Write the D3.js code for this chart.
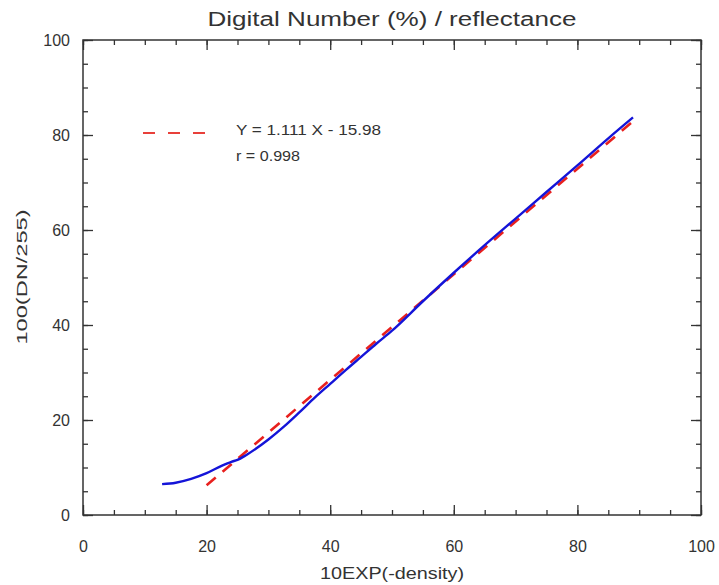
<!DOCTYPE html>
<html>
<head>
<meta charset="utf-8">
<script src="https://cdn.jsdelivr.net/npm/d3@7"></script>
<style>
  html, body { margin: 0; padding: 0; background: #fff; }
  svg { display: block; }
  text { font-family: "Liberation Sans", Arial, sans-serif; fill: #333; }
</style>
</head>
<body>
<script>
// ---- Data ----
const measuredX = [12.8, 15, 17.5, 20, 22.5, 24, 25, 26.5, 30, 32.5, 35, 37.5, 40, 42.5, 45, 47.5, 50, 55, 60, 65, 70, 75, 80, 85, 89];
const measuredY = [6.5, 6.8, 7.6, 8.8, 10.4, 11.2, 11.6, 12.7, 15.9, 18.6, 21.6, 24.7, 27.6, 30.5, 33.3, 36.1, 38.8, 45.0, 51.0, 56.8, 62.4, 68.0, 73.6, 79.3, 83.7];
const fitSlope = 1.111;
const fitIntercept = -15.98;
const fitRange = [20, 89];
const xMajorTicks = [0, 20, 40, 60, 80, 100];
const yMajorTicks = [0, 20, 40, 60, 80, 100];
const minorTicks = d3.range(0, 101, 5);
const titleText = "Digital Number (%) / reflectance";
const xTitle = "10EXP(-density)";
const yTitle = "100(DN/255)";
const legendLines = ["Y = 1.111 X - 15.98", "r = 0.998"];

// ---- Layout ----
const W = 719, H = 585;
const L = 83, R = 701, T = 40, B = 515;

const svg = d3.select("body").append("svg").attr("width", W).attr("height", H);

const x = d3.scaleLinear().domain([0, 100]).range([L, R]);
const y = d3.scaleLinear().domain([0, 100]).range([B, T]);

const axisColor = "#333";

function styleAxis(g) {
  g.select(".domain").remove();
  g.selectAll(".tick line").attr("stroke", axisColor).attr("stroke-width", 1.3);
  g.selectAll(".tick text").attr("font-size", 16).attr("fill", "#333")
    .attr("font-family", "Liberation Sans, Arial, sans-serif");
}

// minor ticks
svg.append("g").attr("transform", `translate(0,${B})`)
  .call(d3.axisBottom(x).tickValues(minorTicks).tickSize(-5).tickFormat(""))
  .call(styleAxis);
svg.append("g").attr("transform", `translate(0,${T})`)
  .call(d3.axisTop(x).tickValues(minorTicks).tickSize(-5).tickFormat(""))
  .call(styleAxis);
svg.append("g").attr("transform", `translate(${L},0)`)
  .call(d3.axisLeft(y).tickValues(minorTicks).tickSize(-5).tickFormat(""))
  .call(styleAxis);
svg.append("g").attr("transform", `translate(${R},0)`)
  .call(d3.axisRight(y).tickValues(minorTicks).tickSize(-5).tickFormat(""))
  .call(styleAxis);

// major ticks
svg.append("g").attr("transform", `translate(0,${B})`)
  .call(d3.axisBottom(x).tickValues(xMajorTicks).tickSize(-10).tickPadding(26).tickFormat(d3.format("d")))
  .call(styleAxis);
svg.append("g").attr("transform", `translate(0,${T})`)
  .call(d3.axisTop(x).tickValues(xMajorTicks).tickSize(-10).tickFormat(""))
  .call(styleAxis);
svg.append("g").attr("transform", `translate(${L},0)`)
  .call(d3.axisLeft(y).tickValues(yMajorTicks).tickSize(-10).tickPadding(13).tickFormat(d3.format("d")))
  .call(styleAxis);
svg.append("g").attr("transform", `translate(${R},0)`)
  .call(d3.axisRight(y).tickValues(yMajorTicks).tickSize(-10).tickFormat(""))
  .call(styleAxis);

// frame
svg.append("rect").attr("x", L).attr("y", T).attr("width", R - L).attr("height", B - T)
  .attr("fill", "none").attr("stroke", axisColor).attr("stroke-width", 1.5);

// measured curve
const measured = measuredX.map((d, i) => [d, measuredY[i]]);
const line = d3.line().x(d => x(d[0])).y(d => y(d[1])).curve(d3.curveMonotoneX);

// fit line
const fit = fitRange.map(v => [v, fitSlope * v + fitIntercept]);
svg.append("path").datum(fit).attr("d", d3.line().x(d => x(d[0])).y(d => y(d[1])))
  .attr("fill", "none").attr("stroke", "#e8201e").attr("stroke-width", 2.6)
  .attr("stroke-dasharray", "12,9");

svg.append("path").datum(measured).attr("d", line)
  .attr("fill", "none").attr("stroke", "#1414d8").attr("stroke-width", 2.4);

// legend
svg.append("line").attr("x1", 143).attr("x2", 212).attr("y1", 133).attr("y2", 133)
  .attr("stroke", "#e8403a").attr("stroke-width", 1.8).attr("stroke-dasharray", "12,13");
svg.append("text").attr("x", 236).attr("y", 135).attr("font-size", 14)
  .attr("textLength", 145).attr("lengthAdjust", "spacingAndGlyphs").text(legendLines[0]);
svg.append("text").attr("x", 236).attr("y", 161).attr("font-size", 14)
  .attr("textLength", 64).attr("lengthAdjust", "spacingAndGlyphs").text(legendLines[1]);

// titles
svg.append("text").attr("x", 392).attr("y", 26).attr("text-anchor", "middle")
  .attr("font-size", 20).attr("textLength", 369).attr("lengthAdjust", "spacingAndGlyphs").text(titleText);
svg.append("text").attr("x", 392).attr("y", 579).attr("text-anchor", "middle")
  .attr("font-size", 16).attr("textLength", 144).attr("lengthAdjust", "spacingAndGlyphs").text(xTitle);
svg.append("text").attr("transform", "translate(27,277) rotate(-90)").attr("text-anchor", "middle")
  .attr("font-size", 15).attr("textLength", 135).attr("lengthAdjust", "spacingAndGlyphs").text(yTitle);
</script>
</body>
</html>
